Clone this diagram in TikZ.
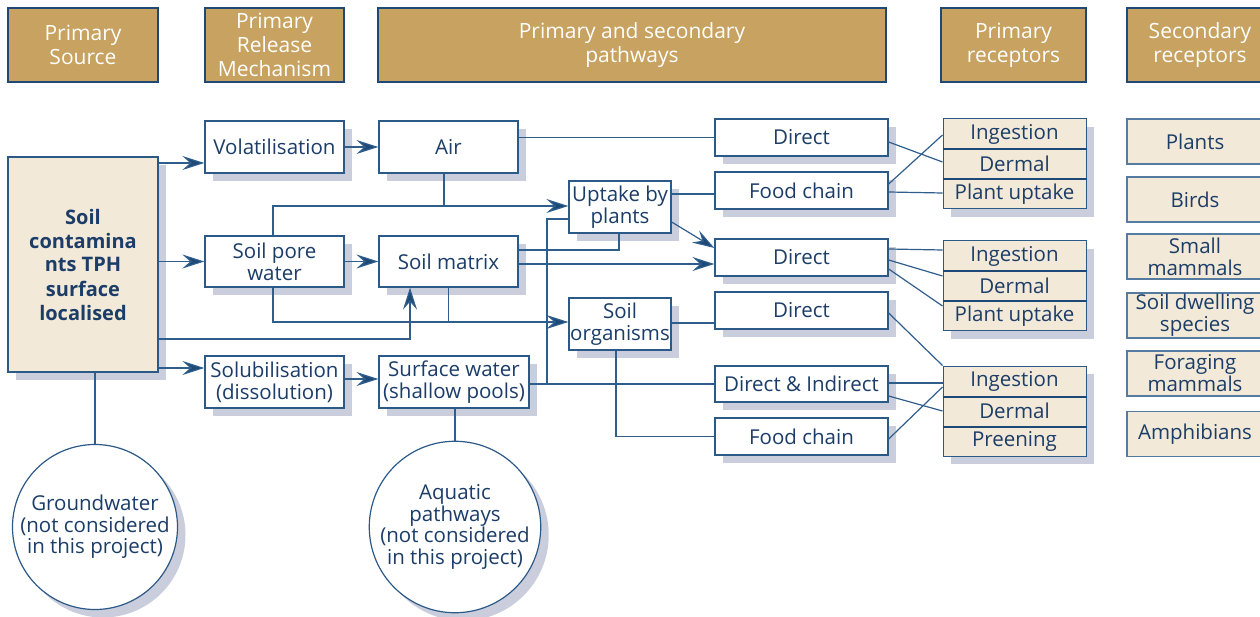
\documentclass[tikz,border=0pt]{standalone}
\usepackage{fontspec}
\setmainfont{Open Sans}
\usetikzlibrary{arrows.meta,shadows,calc}
\definecolor{ink}{HTML}{1B3D68}
\definecolor{edge}{HTML}{2C5A88}
\definecolor{wire}{HTML}{2F5E8C}
\definecolor{hdrline}{HTML}{1E4876}
\definecolor{tan}{HTML}{C7A260}
\definecolor{cream}{HTML}{F3E9D8}
\definecolor{shade}{HTML}{CACDDC}
\begin{document}
\begin{tikzpicture}[x=1pt,y=-1pt,
  shad/.style={drop shadow={shadow xshift=8pt,shadow yshift=-8pt,fill=shade,opacity=1}},
  body/.style={font=\fontsize{20.5}{22}\selectfont},
  hdr/.style={draw=hdrline,line width=2.5pt,fill=tan,text=white,inner sep=0pt,align=center,
    minimum height=74pt,font=\fontsize{21}{24}\selectfont},
  box/.style={body,draw=edge,line width=1.3pt,fill=white,text=ink,inner sep=0pt,align=center,shad},
  mid/.style={box,minimum width=139pt,minimum height=52pt},
  path/.style={box,minimum width=173pt,minimum height=37pt},
  cell/.style={body,draw=edge,line width=1pt,fill=cream,text=ink,inner sep=0pt,
    minimum width=143pt,minimum height=30pt,shad},
  sec/.style={body,draw=edge!80,line width=1.2pt,fill=cream,text=ink,inner sep=0pt,align=center,
    minimum width=136pt,minimum height=45pt},
  circ/.style={circle,draw=edge,line width=1.2pt,fill=white,text=ink,inner sep=0pt,
    align=center,minimum size=165pt,shad,font=\fontsize{20.5}{21.5}\selectfont},
  line/.style={draw=wire,line width=1.2pt},
  arr/.style={line,-{Stealth[length=22pt,width=14pt,inset=8pt,fill=hdrline]}},
  divider/.style={draw=hdrline,line width=2pt}]
\useasboundingbox (0,0) rectangle (1260,617);

% column headings
\node[hdr,minimum width=150pt] (hsrc)  at (83,45)    {Primary\\Source};
\node[hdr,minimum width=139pt] (hrel)  at (274.5,45) {Primary\\Release\\Mechanism};
\node[hdr,minimum width=508pt] (hpath) at (632,45)   {Primary and secondary\\pathways};
\node[hdr,minimum width=145pt] (hprim) at (1013.5,45){Primary\\receptors};
\node[hdr,minimum width=146pt] (hsec)  at (1200,45)  {Secondary\\receptors};

% source
\node[box,fill=cream,line width=2pt,minimum width=150pt,minimum height=215pt,
      font=\fontsize{20}{24}\selectfont\bfseries] (src) at (83,264.5)
      {Soil\\contamina\\nts TPH\\surface\\localised};

% release mechanisms and media
\node[mid] (vol)  at (274.5,147)   {Volatilisation};
\node[mid] (air)  at (448.5,147)   {Air};
\node[mid,minimum height=51pt] (spw)  at (274.5,261.5) {Soil pore\\water};
\node[mid,minimum height=51pt] (smat) at (448.5,261.5) {Soil matrix};
\node[mid] (sol)  at (274.5,382)   {Solubilisation\\(dissolution)};
\node[mid,minimum width=150pt] (sw) at (454,382) {Surface water\\(shallow pools)};
\node[box,minimum width=102pt,minimum height=52pt] (upt)  at (620,207) {Uptake by\\plants};
\node[box,minimum width=102pt,minimum height=52pt] (sorg) at (620,324) {Soil\\organisms};

% exposure routes
\node[path] (d1)  at (801.5,137.5) {Direct};
\node[path] (fc1) at (801.5,190.5) {Food chain};
\node[path] (d2)  at (801.5,257.5) {Direct};
\node[path] (d3)  at (801.5,310.5) {Direct};
\node[path,minimum height=36pt] (di) at (801.5,384) {Direct \& Indirect};
\node[path] (fc2) at (801.5,436.5) {Food chain};

% primary receptor stacks
\node[cell] (ing1)  at (1014.5,134) {Ingestion};
\node[cell] (derm1) at (1014.5,164) {Dermal};
\node[cell] (pu1)   at (1014.5,194) {Plant uptake};
\node[cell] (ing2)  at (1014.5,256) {Ingestion};
\node[cell] (derm2) at (1014.5,286) {Dermal};
\node[cell] (pu2)   at (1014.5,316) {Plant uptake};
\node[cell] (ing3)  at (1014.5,381) {Ingestion};
\node[cell] (derm3) at (1014.5,411) {Dermal};
\node[cell] (pre3)  at (1014.5,441) {Preening};
\foreach \a in {ing1,derm1,ing2,derm2,ing3,derm3}
  \draw[divider] (\a.south west) -- (\a.south east);

% secondary receptors
\node[sec] (plants) at (1195,141.5) {Plants};
\node[sec] (birds)  at (1195,199.5) {Birds};
\node[sec] (small)  at (1195,256.5) {Small\\mammals};
\node[sec] (soilsp) at (1195,315.5) {Soil dwelling\\species};
\node[sec] (forag)  at (1195,373.5) {Foraging\\mammals};
\node[sec] (amph)   at (1195,434)   {Amphibians};

% pathways not assessed
\node[circ] (gw) at (95,527)  {Groundwater\\(not considered\\in this project)};
\node[circ] (aq) at (455,527) {Aquatic\\pathways\\(not considered\\in this project)};

% junction points
\coordinate (jair) at (444,206);
\coordinate (jmat) at (448.5,322);
\coordinate (jsw)  at (547,384);

% source to release mechanisms
\draw[arr] (src.east |- 0,163) -- (vol.west |- 0,163);
\draw[arr] (src.east |- spw.west) -- (spw.west);
\draw[arr] (src.east |- 0,339) -| (smat.south -| 410,0);
\draw[arr] (src.east |- 0,368) -- (sol.west |- 0,368);
\draw[line] (src.south -| gw.north) -- (gw.north);

% release mechanisms to media
\draw[arr] (vol.east) -- (air.west);
\draw[arr] (spw.east) -- (smat.west);
\draw[arr] (sol.east |- 0,379) -- (sw.west |- 0,379);
\draw[line] (sw.south -| aq.north) -- (aq.north);

% media to uptake and organisms
\draw[line] (air.south -| jair) -- (jair);
\draw[arr] (spw.north -| 273,0) |- (upt.west |- 0,206);
\draw[line] (smat.south) -- (jmat);
\draw[arr] (spw.south -| 273,0) |- (sorg.west |- 0,322);
\draw[line] (smat.east |- 0,250) -| (upt.south -| 619,0);
\draw[line] (jsw) |- (upt.west |- 0,219);

% media to exposure routes
\draw[line] (air.east |- d1.west) -- (d1.west);
\draw[line] (upt.east |- 0,194) -- (fc1.west |- 0,194);
\draw[arr] (upt.east |- 0,222) -- (d2.west |- 0,248);
\draw[arr] (smat.east |- 0,264) -- (d2.west |- 0,264);
\draw[line] (sorg.east |- 0,323) -- (d3.west |- 0,323);
\draw[line] (sorg.south -| 616,0) |- (fc2.west);
\draw[line] (sw.east |- 0,384) -- (di.west |- 0,384);

% exposure routes to receptors
\draw[line] (d1.east |- 0,142)  -- (derm1.west |- 0,162);
\draw[line] (fc1.east |- 0,184) -- (ing1.west |- 0,135);
\draw[line] (fc1.east |- 0,192) -- (pu1.west |- 0,193);
\draw[line] (d2.east |- 0,249)  -- (ing2.west |- 0,250);
\draw[line] (d2.east |- 0,260)  -- (derm2.west |- 0,276);
\draw[line] (d2.east |- 0,269)  -- (pu2.west |- 0,306);
\draw[line] (d3.east |- 0,313)  -- (ing3.north west);
\draw[line] (di.east |- 0,383)  -- (ing3.west |- 0,383);
\draw[line] (di.east |- 0,396)  -- (derm3.west |- 0,411);
\draw[line] (fc2.east |- 0,439) -- (ing3.west |- 0,387);
\end{tikzpicture}
\end{document}
